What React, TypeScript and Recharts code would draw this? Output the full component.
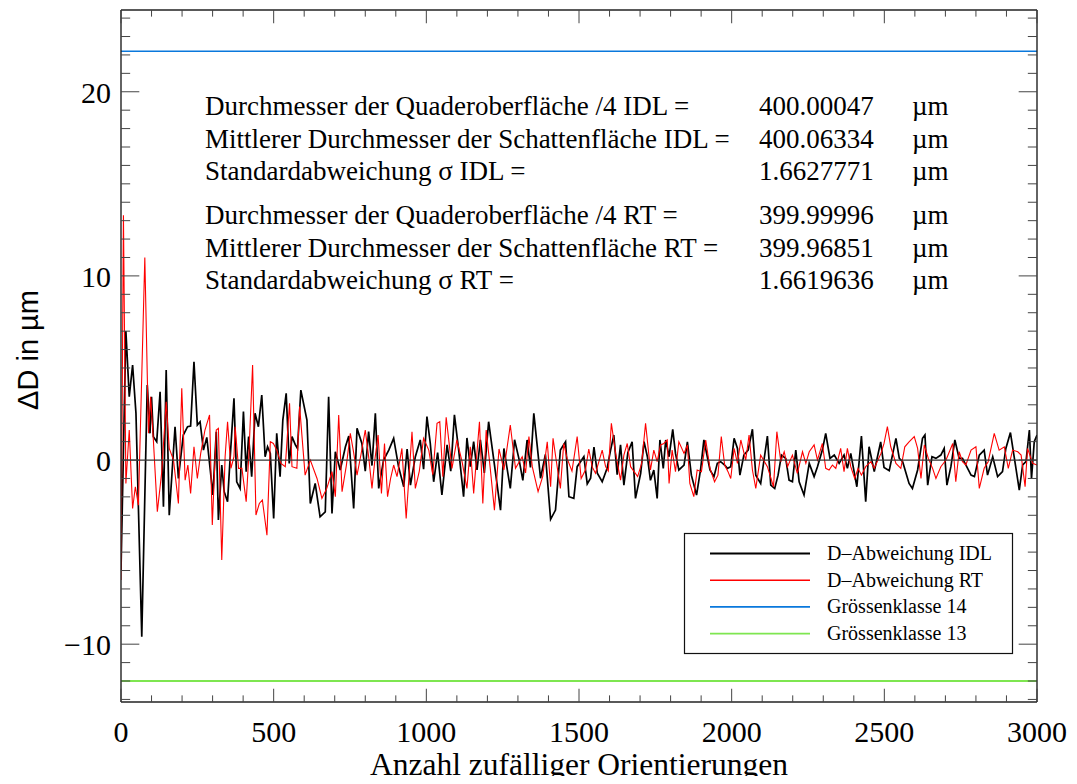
import React from 'react';
import { LineChart, Line, XAxis, YAxis, ReferenceLine } from 'recharts';

// D-Abweichung IDL: [orientations, deviation of the shadow-area diameter in µm]
const idlPoints: [number, number][] = [
  [0, -6.0], [16, 7.0], [27, 3.44], [38, 5.16], [49, 2.54], [68, -9.6], [86, 4.08], [95, 1.45], [100, 3.44], [106, 1.27],
  [117, 1.0], [128, 3.71], [139, -2.54], [148, 4.89], [158, -3.0], [177, 1.81], [188, -1.0], [204, 1.36], [218, 1.81], [228, 1.85],
  [239, 5.34], [250, 1.9], [259, 2.08], [270, 0.54], [281, 1.23], [301, -1.9], [312, 1.54], [319, -3.26], [330, -0.27], [338, -1.72],
  [349, -2.26], [357, 0], [370, 3.35], [379, -1.18], [390, -1.54], [401, 2.63], [410, -0.63], [418, 1.27], [428, -0.9], [439, 2.54],
  [450, 1.81], [461, 3.53], [472, 0.18], [480, 0.72], [489, 0.36], [500, -3.17], [510, 1.45], [521, -0.9], [530, 2.17], [541, 3.62],
  [551, -0.18], [560, 1.27], [571, 0.82], [578, 0.63], [589, 3.8], [609, 2.17], [620, -2.36], [636, -1.27], [652, -3.08], [669, -2.81],
  [680, 3.44], [691, -2.9], [702, 0.45], [718, -0.54], [735, 0.72], [746, 1.3], [762, -2.63], [773, 1.72], [789, 0.9], [800, -0.6],
  [811, 1.54], [822, -0.3], [833, 2.54], [844, -1.54], [860, 0], [877, 0.54], [893, 1.18], [909, -0.36], [926, -1.45], [937, 0.6],
  [948, -1.36], [964, 0.18], [980, 1.09], [991, -0.5], [1002, 2.36], [1013, 0.9], [1024, -1.18], [1037, 0.4], [1051, -1.9], [1068, 0.82],
  [1080, -0.6], [1092, 2.45], [1106, 0.54], [1122, -1.99], [1133, 1.2], [1144, -0.36], [1155, 1.0], [1166, -0.54], [1177, 1.09], [1190, -0.7],
  [1204, 2.08], [1221, 0], [1243, -2.72], [1254, 0.63], [1275, -1.54], [1289, 1.1], [1303, 0.09], [1316, -1.1], [1330, 1.09], [1341, -0.4],
  [1352, 2.54], [1363, 0.8], [1374, -0.99], [1390, 0.3], [1407, -3.22], [1423, -2.72], [1439, 0.54], [1456, 0.99], [1467, -1.99], [1483, -2.08],
  [1494, -0.36], [1516, 0.18], [1527, -1.3], [1538, -0.99], [1549, 0.7], [1560, -0.72], [1576, -1.18], [1592, -0.45], [1603, 0.5], [1614, 1.36],
  [1625, -0.8], [1636, 0.82], [1647, -1.36], [1660, 0.4], [1674, 0.99], [1685, -2.08], [1702, -0.72], [1713, 1.0], [1724, 0.18], [1734, -1.1],
  [1745, -0.54], [1756, -2.08], [1765, 1.09], [1776, -0.45], [1784, 1.09], [1795, 0.18], [1807, 1.67], [1816, 0.36], [1827, -0.54], [1844, -0.27],
  [1855, 0.99], [1868, -0.82], [1885, -1.9], [1898, -0.54], [1909, 1.09], [1929, -0.54], [1942, -0.9], [1953, -0.18], [1964, -0.09], [1977, -0.27],
  [1986, -0.45], [1997, -0.36], [2008, 1.18], [2019, 0.63], [2027, -0.82], [2040, 0.27], [2054, 0.54], [2068, 1.67], [2079, -0.82], [2095, -1.27],
  [2117, 1.3], [2128, -1.36], [2141, -1.54], [2152, -0.82], [2163, 0.27], [2177, 0.09], [2188, -1.09], [2199, -1.18], [2210, 0.54], [2221, -1.18],
  [2237, -1.9], [2254, -0.18], [2270, -0.9], [2281, -0.36], [2297, 0.54], [2308, 1.45], [2322, 0.09], [2336, 0.27], [2352, -0.18], [2368, 0.27],
  [2379, -0.45], [2390, 0.36], [2410, -1.45], [2425, 1.3], [2439, -2.26], [2450, 0.72], [2467, -0.63], [2488, 0.99], [2499, -0.4], [2516, -0.58],
  [2538, 1.18], [2549, 0.09], [2560, -0.09], [2581, -1.27], [2592, -1.54], [2609, -0.54], [2625, 1.18], [2633, 1.36], [2642, -1.36], [2656, 0.18],
  [2669, 0.09], [2685, 0.27], [2696, 0.63], [2705, -1.36], [2718, -0.36], [2731, 1.09], [2745, 0.09], [2756, 0.09], [2784, -0.82], [2795, -0.9],
  [2811, 0.27], [2827, 0.54], [2838, -0.82], [2855, 0.18], [2871, -0.9], [2887, -0.63], [2898, 0.63], [2913, 1.49], [2926, 0.09], [2942, -1.63],
  [2953, -0.27], [2964, -0.09], [2975, 1.63], [2982, -1.0], [2991, 1.0], [3000, 1.36],
];

// D-Abweichung RT
const rtPoints: [number, number][] = [
  [0, -6.52], [8, 13.3], [16, -1.27], [27, 1.63], [38, -2.63], [47, -1.45], [57, -2.45], [78, 11.0], [90, 1.45], [97, 3.44],
  [106, 1.09], [119, -2.81], [133, -0.72], [148, 3.17], [158, 0.63], [172, 0], [188, -2.36], [199, 3.9], [210, -1.09], [219, -0.27],
  [228, -1.81], [239, 0.72], [250, -1.0], [261, 0.36], [275, 1.63], [290, 2.45], [299, -3.53], [312, 1.63], [319, 1.72], [330, -5.43],
  [341, 0.18], [349, 2.08], [360, -0.45], [370, 0.18], [374, 1.81], [385, -0.45], [396, -0.45], [410, -2.26], [419, 0.36], [431, 5.16],
  [442, -2.99], [453, -2.36], [463, -2.17], [478, -4.08], [489, 1.0], [499, 0.9], [510, 0.54], [524, -0.18], [538, -0.36], [552, 3.08],
  [560, -0.36], [576, -0.45], [585, 2.9], [603, -0.82], [620, 0], [642, -1.0], [658, -2.08], [674, -1.54], [691, -0.63], [702, -1.99],
  [713, 2.45], [724, -1.72], [738, -0.3], [751, 1.45], [762, 0.4], [773, -0.82], [786, 0.3], [800, 1.63], [811, 0.2], [822, -1.54],
  [832, 0.1], [842, 1.36], [853, -1.81], [863, 0.9], [873, -1.99], [883, -1.0], [893, -0.27], [904, -0.9], [920, 0.63], [934, -3.17],
  [953, 1.54], [964, -1.54], [977, -0.6], [991, 1.18], [1008, 0.54], [1021, -0.8], [1035, 1.99], [1044, 2.08], [1054, -0.9], [1065, 2.32],
  [1084, -0.45], [1100, 1.1], [1117, -0.09], [1133, -1.54], [1144, 0.72], [1155, -1.81], [1174, 2.08], [1185, -2.36], [1196, 1.63], [1209, -0.4],
  [1223, -2.72], [1238, 0.6], [1254, -0.54], [1275, 1.9], [1292, -0.45], [1314, 0.18], [1325, -0.7], [1336, 1.27], [1347, -0.36], [1366, -1.72],
  [1381, -0.9], [1396, 0.99], [1407, -1.45], [1415, 1.18], [1427, -0.2], [1439, -1.54], [1450, 0.9], [1461, 0.09], [1477, -0.6], [1494, 1.27],
  [1507, -1.0], [1521, -0.54], [1532, 0.6], [1543, -0.36], [1554, -0.72], [1576, 0.54], [1587, -0.36], [1596, -0.6], [1606, 1.99], [1620, 0.36],
  [1636, -1.09], [1647, 0.27], [1658, 0.9], [1669, -0.36], [1692, -0.9], [1705, -0.2], [1718, 1.99], [1734, -0.54], [1745, 0.54], [1756, -0.09],
  [1767, 0.82], [1778, 0.9], [1789, 1.09], [1795, -1.27], [1805, 0.54], [1816, -0.63], [1827, 0.99], [1844, 0.36], [1855, 0.82], [1863, -1.27],
  [1876, -1.99], [1887, -0.54], [1901, -0.63], [1915, 1.09], [1929, -0.45], [1944, -1.18], [1955, -0.82], [1966, 1.27], [1977, -0.27], [1988, -0.63],
  [1997, -1.0], [2008, 0.63], [2019, -0.18], [2030, 1.09], [2046, 0], [2057, 1.36], [2068, -0.54], [2079, -1.54], [2095, 0.27], [2117, -0.36],
  [2137, -1.45], [2148, 1.54], [2161, -0.09], [2172, 0.45], [2183, -0.36], [2199, 0.27], [2215, -0.72], [2232, 0.45], [2243, -0.18], [2254, 0.45],
  [2270, 0.82], [2281, 0], [2297, 0.9], [2308, -0.45], [2319, -0.54], [2330, -0.27], [2341, -0.45], [2357, 0.63], [2368, -0.63], [2379, 0.63],
  [2390, -0.36], [2403, -1.0], [2414, -0.45], [2425, -0.82], [2439, -0.36], [2456, -0.09], [2467, -0.45], [2489, 0.36], [2499, 0.9], [2510, 1.81],
  [2521, 0.72], [2538, -0.18], [2554, -0.45], [2567, 0.72], [2581, 0.99], [2598, 1.27], [2609, 0.63], [2620, -1.0], [2631, 0.82], [2644, 0.09],
  [2658, -0.45], [2669, -1.0], [2685, -0.36], [2702, 0], [2713, 0.45], [2724, 0.9], [2734, -1.18], [2745, 0.45], [2756, -0.09], [2767, -0.27],
  [2784, 0.54], [2800, 0.72], [2811, -1.54], [2827, -0.45], [2840, -0.09], [2860, 1.45], [2876, 0.54], [2893, 0.72], [2906, -0.45], [2920, 0.54],
  [2937, 0.45], [2948, 0.27], [2961, -1.45], [2969, 0.63], [2986, -0.18], [3000, -0.27],
];

// size-class reference levels (µm)
const sizeClass14 = 22.2;
const sizeClass13 = -12;

// axis ranges and ticks
const X_MIN = 0;
const X_MAX = 3000;
const Y_MIN = -13.14;
const Y_MAX = 24.44;
const xTicks = [0, 500, 1000, 1500, 2000, 2500, 3000];
const yTicks = [-10, 0, 10, 20];
const xMinorTicks = Array.from({ length: 31 }, (_, i) => i * 100);
const yMinorTicks = Array.from({ length: 38 }, (_, i) => i - 13);

// statistics printed in the plot
const statLabels = [
  'Durchmesser der Quaderoberfläche /4 IDL =',
  'Mittlerer Durchmesser der Schattenfläche IDL =',
  'Standardabweichung σ IDL =',
  'Durchmesser der Quaderoberfläche /4 RT =',
  'Mittlerer Durchmesser der Schattenfläche RT =',
  'Standardabweichung σ RT =',
];
const statValues = ['400.00047', '400.06334', '1.6627771', '399.99996', '399.96851', '1.6619636'];
const statUnit = 'µm';

const legendLabels = ['D–Abweichung IDL', 'D–Abweichung RT', 'Grössenklasse 14', 'Grössenklasse 13'];
const legendColors = ['#000000', '#ff0000', '#0a78dc', '#7ee650'];
const legendWidths = [2, 1.5, 1.8, 1.8];

const idlData = idlPoints.map(([x, y]) => ({ x, y }));
const rtData = rtPoints.map(([x, y]) => ({ x, y }));

const SERIF = '"Liberation Serif", "Times New Roman", serif';
const SANS = '"Liberation Sans", Arial, sans-serif';

const W = 1061;
const H = 768;

const fmt = (v: number) => (v < 0 ? '\u2212' + Math.abs(v) : String(v));

const XTick = (props: any) => {
  const { x, y, payload } = props;
  return (
    <text x={x} y={y + 40} textAnchor="middle" fontFamily={SERIF} fontSize={30} fill="#000">
      {fmt(payload.value)}
    </text>
  );
};

const YTick = (props: any) => {
  const { x, y, payload } = props;
  return (
    <text x={x - 10} y={y + 11} textAnchor="end" fontFamily={SERIF} fontSize={30} fill="#000">
      {fmt(payload.value)}
    </text>
  );
};

const TICK = '#444';
const FRAME = '#222';

export default function App() {
  const xMajorLen = 0.72;
  const xMinorLen = 0.36;
  const yMajorLen = 60;
  const yMinorLen = 30;

  const rowBase = [107, 139.5, 172, 216, 248.5, 281];

  return (
    <div style={{ position: 'relative', width: W, height: H }}>
      <LineChart width={W} height={H} margin={{ top: 2, right: 32, bottom: 0, left: 0 }}>
        <XAxis
          type="number"
          dataKey="x"
          domain={[X_MIN, X_MAX]}
          allowDataOverflow
          ticks={xTicks}
          interval={0}
          height={74}
          tickLine={false}
          axisLine={false}
          tickSize={0}
          tickMargin={0}
          tick={XTick}
        />
        <YAxis
          type="number"
          domain={[Y_MIN, Y_MAX]}
          allowDataOverflow
          ticks={yTicks}
          interval={0}
          width={113}
          tickLine={false}
          axisLine={false}
          tickSize={0}
          tickMargin={0}
          tick={YTick}
        />

        <ReferenceLine y={sizeClass14} stroke="#0a78dc" strokeWidth={1.6} ifOverflow="visible" />
        <ReferenceLine y={sizeClass13} stroke="#7ee650" strokeWidth={1.8} ifOverflow="visible" />

        <Line data={idlData} dataKey="y" stroke="#000" strokeWidth={1.7} dot={false} isAnimationActive={false} />
        <Line data={rtData} dataKey="y" stroke="#ff0000" strokeWidth={1.1} dot={false} isAnimationActive={false} />

        <ReferenceLine y={0} stroke="#333" strokeWidth={1.3} ifOverflow="visible" />

        {/* plot frame */}
        <ReferenceLine y={Y_MIN} stroke={FRAME} strokeWidth={1.4} ifOverflow="visible" />
        <ReferenceLine y={Y_MAX} stroke={FRAME} strokeWidth={1.4} ifOverflow="visible" />
        <ReferenceLine x={X_MIN} stroke={FRAME} strokeWidth={1.4} ifOverflow="visible" />
        <ReferenceLine x={X_MAX} stroke={FRAME} strokeWidth={1.4} ifOverflow="visible" />

        {/* inward tick marks on all four sides */}
        {xMinorTicks.map((t) => {
          const len = t % 500 === 0 ? xMajorLen : xMinorLen;
          return (
            <ReferenceLine
              key={'xb' + t}
              segment={[{ x: t, y: Y_MIN }, { x: t, y: Y_MIN + len }]}
              stroke={TICK}
              strokeWidth={1}
              ifOverflow="visible"
            />
          );
        })}
        {xMinorTicks.map((t) => {
          const len = t % 500 === 0 ? xMajorLen : xMinorLen;
          return (
            <ReferenceLine
              key={'xt' + t}
              segment={[{ x: t, y: Y_MAX }, { x: t, y: Y_MAX - len }]}
              stroke={TICK}
              strokeWidth={1}
              ifOverflow="visible"
            />
          );
        })}
        {yMinorTicks.map((t) => {
          const len = t % 10 === 0 ? yMajorLen : yMinorLen;
          return (
            <ReferenceLine
              key={'yl' + t}
              segment={[{ x: X_MIN, y: t }, { x: X_MIN + len, y: t }]}
              stroke={TICK}
              strokeWidth={1}
              ifOverflow="visible"
            />
          );
        })}
        {yMinorTicks.map((t) => {
          const len = t % 10 === 0 ? yMajorLen : yMinorLen;
          return (
            <ReferenceLine
              key={'yr' + t}
              segment={[{ x: X_MAX, y: t }, { x: X_MAX - len, y: t }]}
              stroke={TICK}
              strokeWidth={1}
              ifOverflow="visible"
            />
          );
        })}
      </LineChart>

      <svg
        width={W}
        height={H}
        style={{ position: 'absolute', left: 0, top: 0, pointerEvents: 'none', overflow: 'visible' }}
      >
        {/* statistics block */}
        {statLabels.map((s, i) => (
          <g key={'st' + i} fontFamily={SERIF} fontSize={27} fill="#000">
            <text x={197} y={rowBase[i]}>{s}</text>
            <text x={751} y={rowBase[i]}>{statValues[i]}</text>
            <text x={904} y={rowBase[i]}>{statUnit}</text>
          </g>
        ))}

        {/* legend */}
        <rect x={676.5} y={525.5} width={328} height={120} fill="#fff" stroke="#111" strokeWidth={1.2} />
        {legendLabels.map((s, i) => (
          <g key={'lg' + i}>
            <line
              x1={702}
              x2={802}
              y1={545.5 + i * 26.7}
              y2={545.5 + i * 26.7}
              stroke={legendColors[i]}
              strokeWidth={legendWidths[i]}
            />
            <text x={819} y={552 + i * 26.7} fontFamily={SERIF} fontSize={20} fill="#000">
              {s}
            </text>
          </g>
        ))}

        {/* axis titles */}
        <text x={571} y={767} textAnchor="middle" fontFamily={SERIF} fontSize={31.5} fill="#000">
          Anzahl zufälliger Orientierungen
        </text>
        <text
          x={30}
          y={342}
          textAnchor="middle"
          fontFamily={SANS}
          fontSize={29}
          fill="#000"
          transform="rotate(-90 30 342)"
        >
          ΔD in µm
        </text>
      </svg>
    </div>
  );
}
